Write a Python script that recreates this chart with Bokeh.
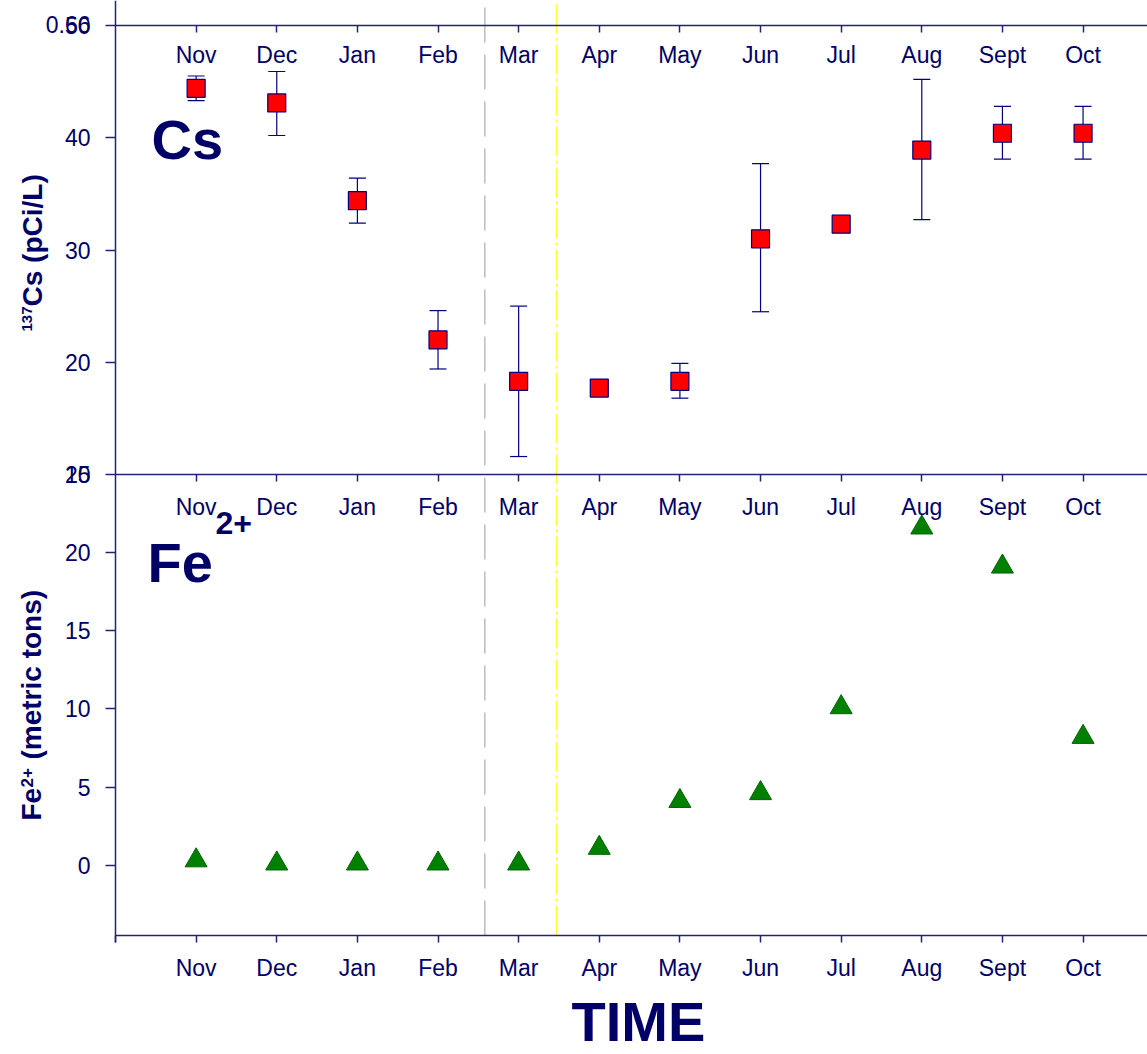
import math
from bokeh.plotting import figure
from bokeh.models import (Range1d, LinearAxis, FixedTicker, ColumnDataSource,
                          Whisker, TeeHead, Label)
from bokeh.embed import file_html
from bokeh.resources import INLINE

# ---------------- data ----------------
months = ["Nov", "Dec", "Jan", "Feb", "Mar", "Apr", "May", "Jun", "Jul", "Aug", "Sept", "Oct"]
month_pos = list(range(1, 13))
cs_values = [44.4, 43.1, 34.4, 22.0, 18.3, 17.7, 18.3, 31.0, 32.3, 38.9, 40.4, 40.4]
cs_upper = [45.5, 45.9, 36.4, 24.6, 25.0, 18.2, 19.9, 37.7, 32.8, 45.2, 42.8, 42.8]
cs_lower = [43.3, 40.2, 32.4, 19.4, 11.6, 17.1, 16.8, 24.5, 31.8, 32.7, 38.1, 38.1]
fe_values = [0.3, 0.1, 0.1, 0.1, 0.1, 1.1, 4.1, 4.6, 10.1, 21.6, 19.1, 8.2]
event_lines = [4.58, 5.47]
cs_ticks = [10, 20, 30, 40, 50]
fe_ticks = [0, 5, 10, 15, 20, 25]

# ---------------- layout (canvas pixels) ----------------
FIG_W, FIG_H = 1147, 1054
FRAME_L = 115
FRAME_T, MID, FRAME_B = 25, 474, 935
PX_PER_MONTH = 80.63
CS_LO, CS_HI = 10, 50
FE_LO, FE_HI = -4.5, 25


def xd(px):
    return (px - FRAME_L) / PX_PER_MONTH


def cs_y(py):
    return CS_HI - (py - FRAME_T) * (CS_HI - CS_LO) / (MID - FRAME_T)


def fe_y(py):
    return FE_HI - (py - MID) * (FE_HI - FE_LO) / (FRAME_B - MID)


def fe_of_cs(c):
    return fe_y(FRAME_T + (CS_HI - c) * (MID - FRAME_T) / (CS_HI - CS_LO))


NAVY = "#000066"
AXC = "#22227a"
FONT = "Liberation Sans"
X_END = xd(FIG_W)

# the frame covers the whole canvas; axes are placed at fixed locations
p = figure(width=FIG_W, height=FIG_H, x_range=Range1d(xd(0), X_END),
           y_range=Range1d(fe_y(FIG_H), fe_y(0)), output_backend="svg",
           toolbar_location=None, x_axis_type=None, y_axis_type=None,
           min_border_left=0, min_border_right=0, min_border_top=0, min_border_bottom=0)
p.extra_y_ranges = {"cs": Range1d(cs_y(FIG_H), cs_y(0))}
p.outline_line_color = None
p.background_fill_color = "white"
p.border_fill_color = "white"


def style(ax, tick_out, standoff):
    ax.axis_line_color = AXC
    ax.axis_line_width = 1.5
    ax.major_tick_line_color = AXC
    ax.major_tick_line_width = 1.5
    ax.major_tick_out = tick_out
    ax.major_tick_in = 0
    ax.minor_tick_line_color = None
    ax.major_label_text_font = FONT
    ax.major_label_text_font_size = "23px"
    ax.major_label_text_color = NAVY
    ax.major_label_standoff = standoff


month_labels = {m: name for m, name in zip(month_pos, months)}

# bottom axis
bottom_ax = LinearAxis(ticker=FixedTicker(ticks=[0] + month_pos),
                       major_label_overrides={0: "", **month_labels},
                       fixed_location=FE_LO, bounds=(0, X_END))
style(bottom_ax, 7, 12)
p.add_layout(bottom_ax, "below")

# top axis of the Cs panel (labels below the line)
top_ax = LinearAxis(ticker=FixedTicker(ticks=month_pos), major_label_overrides=month_labels,
                    fixed_location=CS_HI, y_range_name="cs", bounds=(0, X_END))
style(top_ax, 7, 9)
p.add_layout(top_ax, "below")

# axis between the panels
mid_ax = LinearAxis(ticker=FixedTicker(ticks=month_pos), major_label_overrides=month_labels,
                    fixed_location=FE_HI, bounds=(0, X_END))
style(mid_ax, 7, 12)
p.add_layout(mid_ax, "below")

# left axis carrying both panels' ticks (Cs ticks mapped into the Fe scale)
cs_tick_pos = [fe_of_cs(c) - 1e-6 for c in cs_ticks]
left_overrides = {t: str(t) for t in fe_ticks}
left_overrides.update({pos: str(c) for pos, c in zip(cs_tick_pos, cs_ticks)})
left_ax = LinearAxis(ticker=FixedTicker(ticks=fe_ticks + cs_tick_pos),
                     major_label_overrides=left_overrides,
                     fixed_location=0, bounds=(fe_y(FRAME_B + 7), fe_y(0)))
style(left_ax, 10, 15)
p.add_layout(left_ax, "left")

# event lines (dates of two interventions)
p.segment(x0=[event_lines[0]], y0=[fe_y(FRAME_B)], x1=[event_lines[0]], y1=[fe_y(0)],
          line_color="#bdbdbd", line_width=1.5, line_dash="35 12")
p.segment(x0=[event_lines[1]], y0=[fe_y(FRAME_B)], x1=[event_lines[1]], y1=[fe_y(0)],
          line_color="#ffff33", line_width=1.5, line_dash="30 4 3 4")

# Cs series with error bars
cs_src = ColumnDataSource(dict(x=month_pos, y=cs_values, upper=cs_upper, lower=cs_lower))
wh = Whisker(base="x", upper="upper", lower="lower", source=cs_src, y_range_name="cs",
             line_color="#000080", line_width=1.2,
             upper_head=TeeHead(size=17, line_color="#000080", line_width=1.2),
             lower_head=TeeHead(size=17, line_color="#000080", line_width=1.2))
wh.level = "underlay"
p.add_layout(wh)
p.scatter("x", "y", source=cs_src, marker="square", size=18, fill_color="#ff0000",
          line_color="#000080", line_width=1.2, y_range_name="cs")

# Fe series
fe_src = ColumnDataSource(dict(x=month_pos, y=fe_values))
p.scatter("x", "y", source=fe_src, marker="triangle", size=22, fill_color="#008000",
          line_color="#006400", line_width=1)

SHIFT = 0.39  # anchor-to-baseline offset, in em


def lab(**kw):
    base = dict(text_font=FONT, text_color=NAVY, text_font_style="bold",
                text_baseline="alphabetic", text_align="left")
    base.update(kw)
    p.add_layout(Label(**base))


# panel tags
lab(x=xd(151), y=cs_y(161 - SHIFT * 56), y_range_name="cs", text="Cs", text_font_size="56px")
lab(x=xd(147), y=fe_y(584 - SHIFT * 56), text="Fe", text_font_size="56px")
lab(x=xd(215), y=fe_y(535 - SHIFT * 32), text="2+", text_font_size="32px")

# TIME
lab(x=xd(571), y=fe_y(1043 - SHIFT * 56), text="TIME", text_font_size="56px")

# rotated y titles
lab(x=xd(32 - 0.4 * 15), y=cs_y(331), y_range_name="cs", text="137",
    text_font_size="15px", angle=math.pi / 2)
lab(x=xd(43 - 0.4 * 28), y=cs_y(306), y_range_name="cs", text="Cs (pCi/L)",
    text_font_size="28px", angle=math.pi / 2)
lab(x=xd(42 - 0.4 * 28), y=fe_y(820), text="Fe", text_font_size="28px", angle=math.pi / 2)
lab(x=xd(33 - 0.4 * 17), y=fe_y(787), text="2+", text_font_size="17px", angle=math.pi / 2)
lab(x=xd(42 - 0.4 * 28), y=fe_y(759), text="(metric tons)", text_font_size="28px",
    angle=math.pi / 2)

# stray overlapping label at top-left
lab(x=xd(90), y=cs_y(FRAME_T + 8 - SHIFT * 23), y_range_name="cs",
    text="0.66", text_font_size="23px", text_font_style="normal", text_align="right")

open("out.html", "w").write(file_html(p, INLINE))
